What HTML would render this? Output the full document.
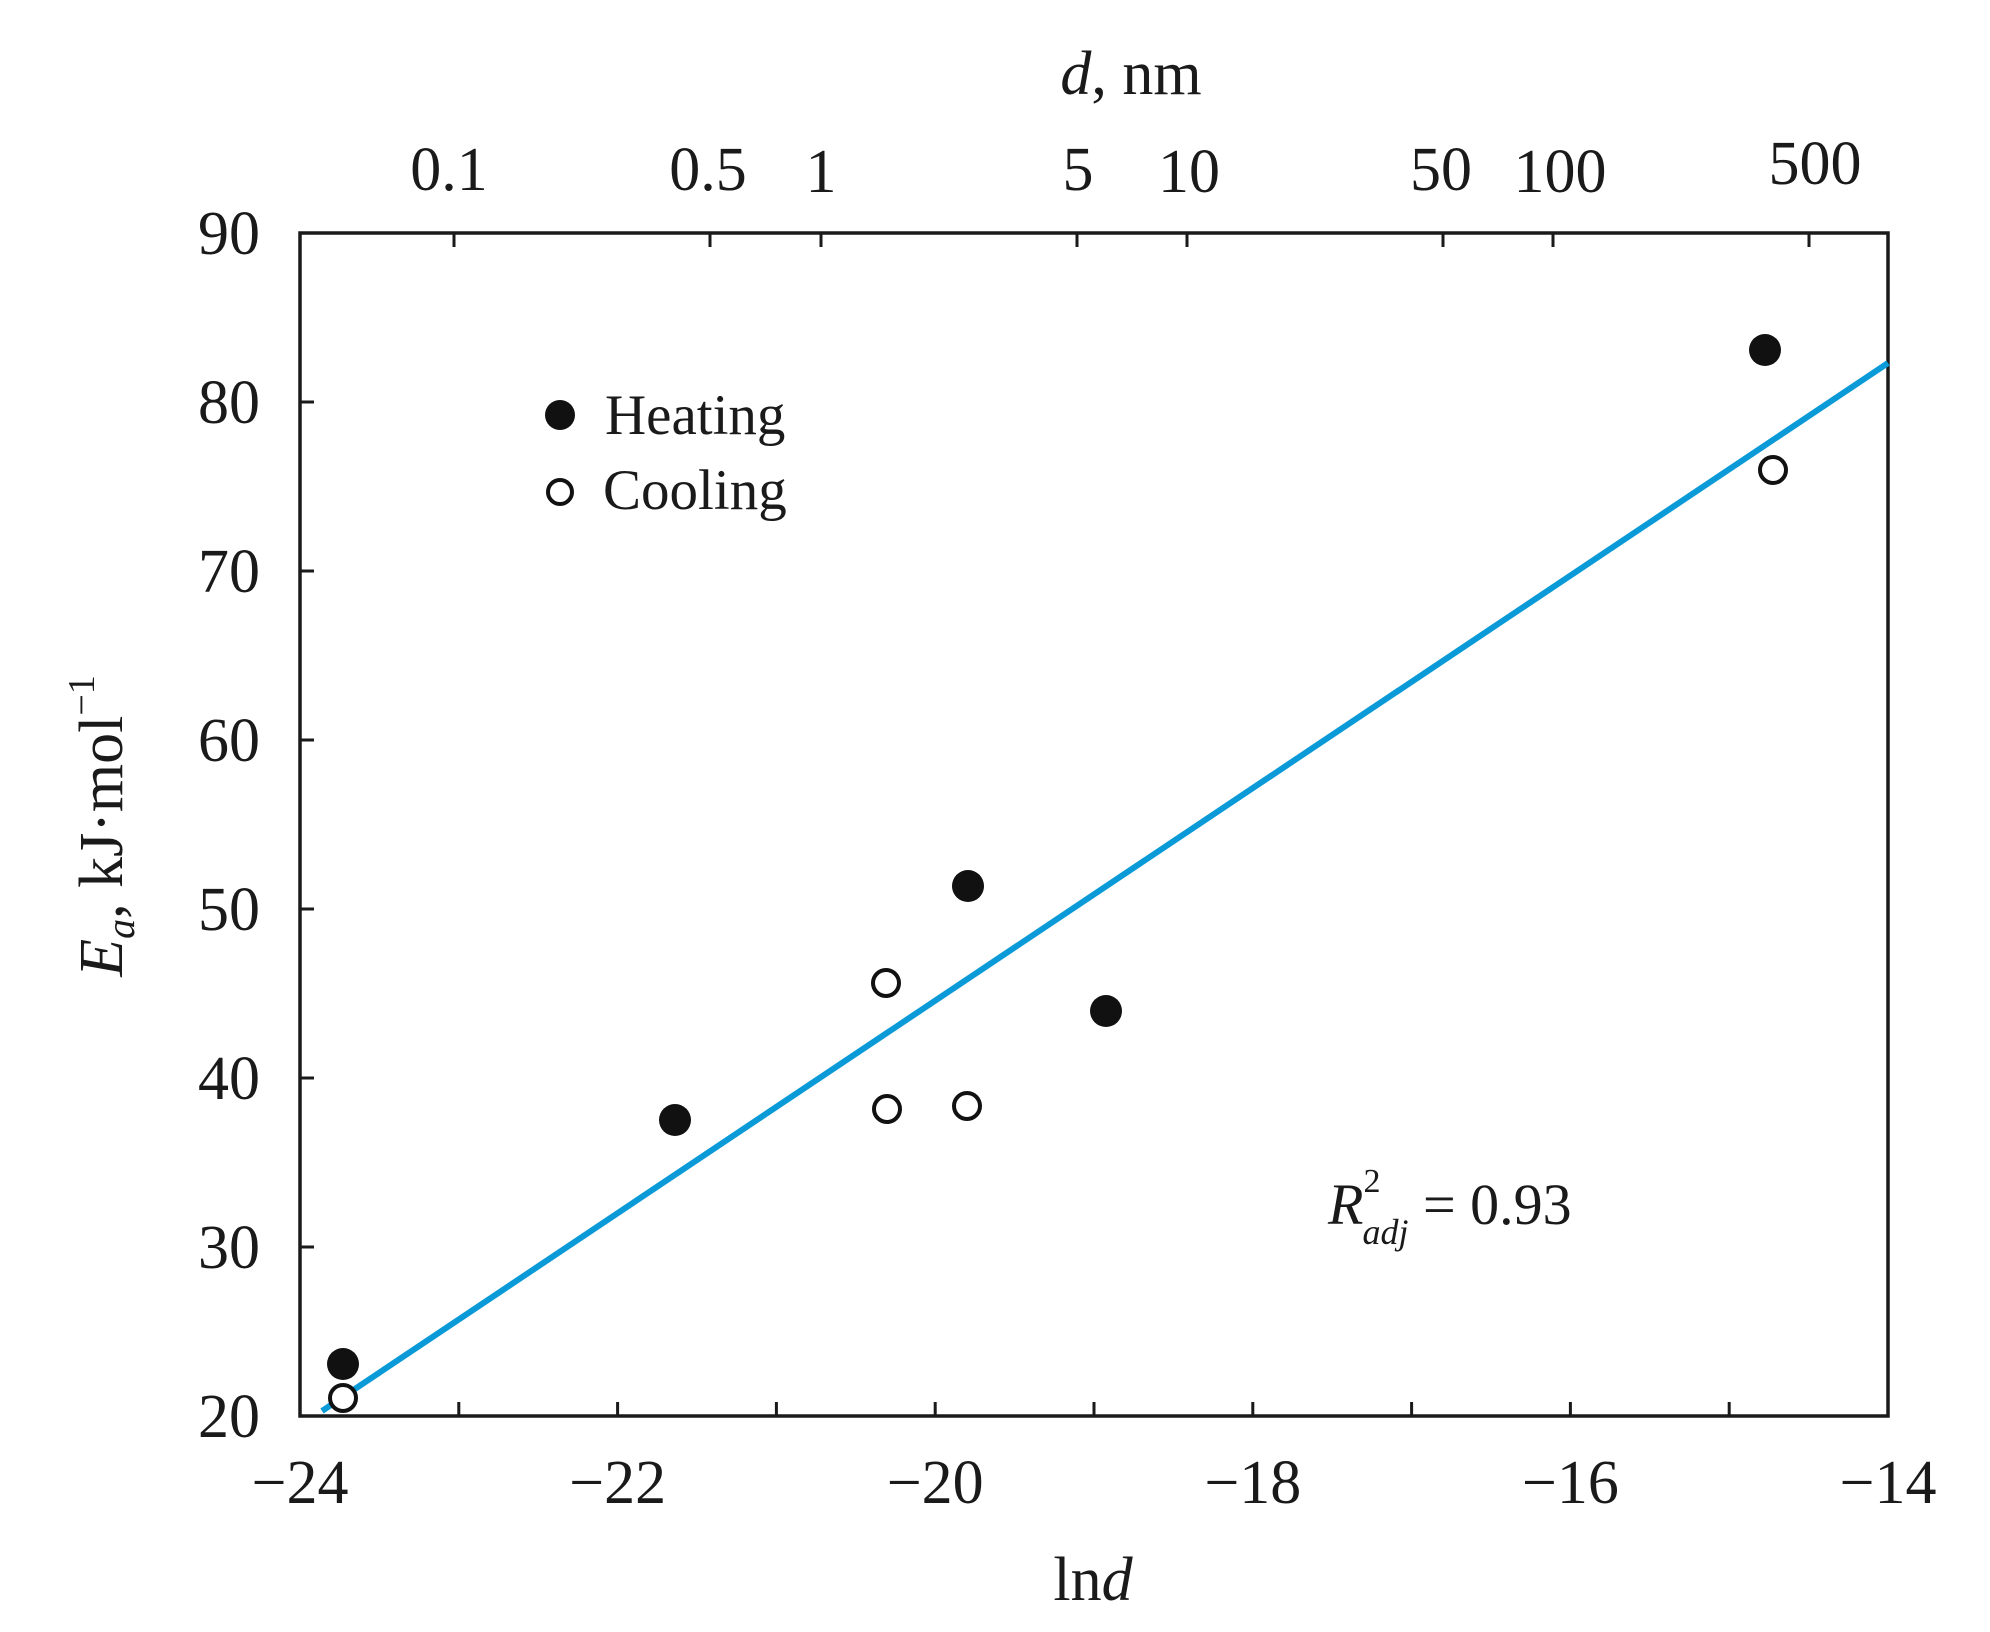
<!DOCTYPE html>
<html><head><meta charset="utf-8"><style>
html,body{margin:0;padding:0;background:#fff}
svg{display:block}
text{font-family:"Liberation Serif",serif;fill:#1a1a1a}
</style></head><body>
<svg width="1990" height="1632" viewBox="0 0 1990 1632" xmlns="http://www.w3.org/2000/svg">
<rect x="300" y="233" width="1588" height="1183" fill="none" stroke="#1a1a1a" stroke-width="3.5"/>
<g stroke="#1a1a1a" stroke-width="3">
<line x1="458.8" y1="1416" x2="458.8" y2="1402"/>
<line x1="617.6" y1="1416" x2="617.6" y2="1402"/>
<line x1="776.4" y1="1416" x2="776.4" y2="1402"/>
<line x1="935.2" y1="1416" x2="935.2" y2="1402"/>
<line x1="1094" y1="1416" x2="1094" y2="1402"/>
<line x1="1252.8" y1="1416" x2="1252.8" y2="1402"/>
<line x1="1411.6" y1="1416" x2="1411.6" y2="1402"/>
<line x1="1570.4" y1="1416" x2="1570.4" y2="1402"/>
<line x1="1729.2" y1="1416" x2="1729.2" y2="1402"/>
<line x1="300" y1="1247" x2="314" y2="1247"/>
<line x1="300" y1="1078" x2="314" y2="1078"/>
<line x1="300" y1="909" x2="314" y2="909"/>
<line x1="300" y1="740" x2="314" y2="740"/>
<line x1="300" y1="571" x2="314" y2="571"/>
<line x1="300" y1="402" x2="314" y2="402"/>
<line x1="454" y1="233" x2="454" y2="247"/>
<line x1="710" y1="233" x2="710" y2="247"/>
<line x1="821" y1="233" x2="821" y2="247"/>
<line x1="1077" y1="233" x2="1077" y2="247"/>
<line x1="1187" y1="233" x2="1187" y2="247"/>
<line x1="1443" y1="233" x2="1443" y2="247"/>
<line x1="1553" y1="233" x2="1553" y2="247"/>
<line x1="1809" y1="233" x2="1809" y2="247"/>
</g>
<line x1="322" y1="1411" x2="1888" y2="363" stroke="#0a9ad8" stroke-width="6"/>
<g fill="#111">
<circle cx="343" cy="1364" r="16"/>
<circle cx="675" cy="1120" r="16"/>
<circle cx="968" cy="886" r="16"/>
<circle cx="1106" cy="1011" r="16"/>
<circle cx="1765" cy="350" r="16"/>
<circle cx="560" cy="415" r="15"/>
</g>
<g fill="#fff" stroke="#111" stroke-width="4">
<circle cx="343" cy="1398" r="13"/>
<circle cx="886" cy="983" r="13"/>
<circle cx="887" cy="1109" r="13"/>
<circle cx="967" cy="1106" r="13"/>
<circle cx="1773" cy="470" r="13"/>
<circle cx="560" cy="492" r="12"/>
</g>
<g font-size="62" text-anchor="end">
<text x="260" y="1437">20</text>
<text x="260" y="1268">30</text>
<text x="260" y="1099">40</text>
<text x="260" y="930">50</text>
<text x="260" y="761">60</text>
<text x="260" y="592">70</text>
<text x="260" y="423">80</text>
<text x="260" y="254">90</text>
</g>
<g font-size="62" text-anchor="middle">
<text x="300" y="1503">−24</text>
<text x="617.6" y="1503">−22</text>
<text x="935.2" y="1503">−20</text>
<text x="1252.8" y="1503">−18</text>
<text x="1570.4" y="1503">−16</text>
<text x="1888" y="1503">−14</text>
<text x="449" y="190">0.1</text>
<text x="708" y="190">0.5</text>
<text x="821" y="192">1</text>
<text x="1078" y="190">5</text>
<text x="1189" y="192">10</text>
<text x="1441" y="190">50</text>
<text x="1560" y="192">100</text>
<text x="1815" y="184">500</text>
<text x="1131" y="94"><tspan font-style="italic">d</tspan>, nm</text>
<text x="1093" y="1600">ln<tspan font-style="italic">d</tspan></text>
</g>
<g font-size="57">
<text x="605" y="434">Heating</text>
<text x="603" y="509">Cooling</text>
</g>
<text x="1328" y="1224" font-size="58"><tspan font-style="italic">R</tspan><tspan font-size="34" dy="-32">2</tspan><tspan font-size="36" font-style="italic" dy="52" dx="-18">adj</tspan><tspan dy="-20"> = 0.93</tspan></text>
<text transform="translate(122,826) rotate(-90)" font-size="62" text-anchor="middle"><tspan font-style="italic">E</tspan><tspan font-style="italic" font-size="40" dy="12">a</tspan><tspan dy="-12">, kJ·mol</tspan><tspan font-size="38" dy="-28">−1</tspan></text>
</svg>
</body></html>
